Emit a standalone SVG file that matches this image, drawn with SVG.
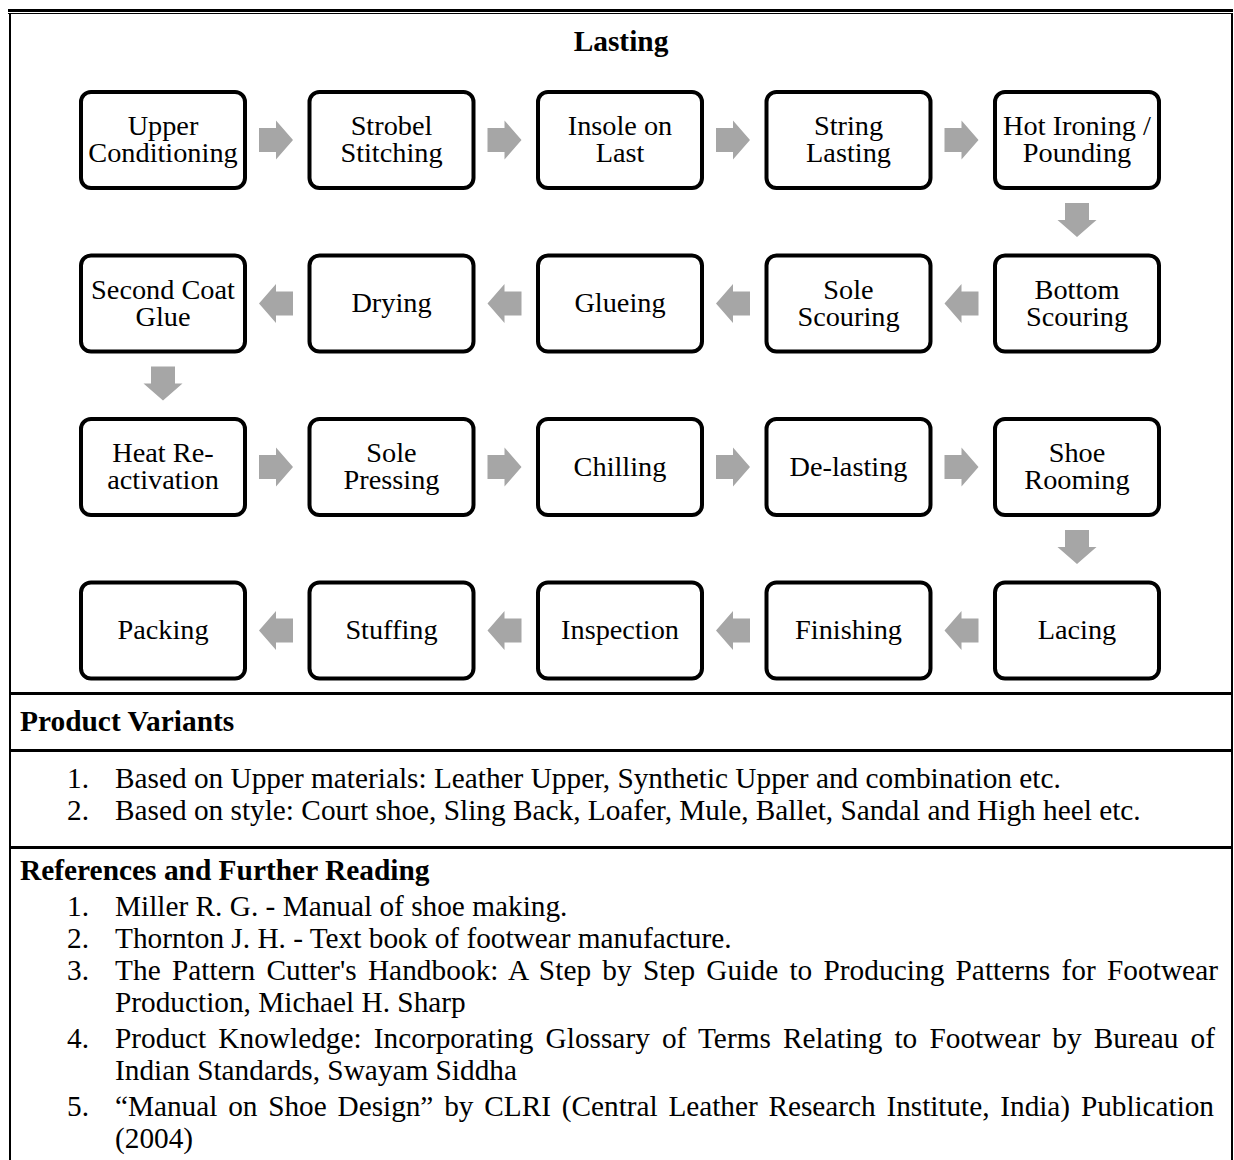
<svg xmlns="http://www.w3.org/2000/svg" xmlns:xlink="http://www.w3.org/1999/xlink" width="1234" height="1160" viewBox="0 0 1234 1160">
<style>
.box{fill:#fff;stroke:#000;stroke-width:4}
.lbl{font-family:"Liberation Serif","Times New Roman",serif;font-size:28.3px;fill:#000;text-anchor:middle}
.txt{font-family:"Liberation Serif","Times New Roman",serif;font-size:29.3px;fill:#000}
.hd{font-family:"Liberation Serif","Times New Roman",serif;font-size:29.4px;font-weight:bold;fill:#000}
.arr{fill:#a6a6a6}
.rule{fill:#000}
</style>
<defs>
<path id="ar" class="arr" d="M-17,-12 H0 V-19.5 L17,0 L0,19.5 V12 H-17 Z"/>
</defs>
<rect width="1234" height="1160" fill="#fff"/>
<g id="table">
<rect class="rule" x="8" y="9" width="1225" height="3"/>
<rect class="rule" x="8" y="13" width="1225" height="1"/>
<rect class="rule" x="9" y="13" width="2" height="1147"/>
<rect class="rule" x="1231" y="13" width="2" height="1147"/>
<rect class="rule" x="9" y="692" width="1224" height="3"/>
<rect class="rule" x="9" y="749" width="1224" height="3"/>
<rect class="rule" x="9" y="846" width="1224" height="3"/>
</g>
<text class="hd" x="621" y="51" text-anchor="middle">Lasting</text>
<g id="connectors">
<use xlink:href="#ar" transform="translate(276,140)"/>
<use xlink:href="#ar" transform="translate(504.5,140)"/>
<use xlink:href="#ar" transform="translate(733,140)"/>
<use xlink:href="#ar" transform="translate(961.5,140)"/>
<use xlink:href="#ar" transform="translate(1077,220) rotate(90)"/>
<use xlink:href="#ar" transform="translate(961.5,303.5) scale(-1,1)"/>
<use xlink:href="#ar" transform="translate(733,303.5) scale(-1,1)"/>
<use xlink:href="#ar" transform="translate(504.5,303.5) scale(-1,1)"/>
<use xlink:href="#ar" transform="translate(276,303.5) scale(-1,1)"/>
<use xlink:href="#ar" transform="translate(163,383.5) rotate(90)"/>
<use xlink:href="#ar" transform="translate(276,467)"/>
<use xlink:href="#ar" transform="translate(504.5,467)"/>
<use xlink:href="#ar" transform="translate(733,467)"/>
<use xlink:href="#ar" transform="translate(961.5,467)"/>
<use xlink:href="#ar" transform="translate(1077,547) rotate(90)"/>
<use xlink:href="#ar" transform="translate(961.5,630.5) scale(-1,1)"/>
<use xlink:href="#ar" transform="translate(733,630.5) scale(-1,1)"/>
<use xlink:href="#ar" transform="translate(504.5,630.5) scale(-1,1)"/>
<use xlink:href="#ar" transform="translate(276,630.5) scale(-1,1)"/>
</g>
<g id="n1"><rect class="box" x="81" y="92" width="164" height="96" rx="10"/><text class="lbl" x="163" y="135">Upper</text><text class="lbl" x="163" y="162">Conditioning</text></g>
<g id="n2"><rect class="box" x="309.5" y="92" width="164" height="96" rx="10"/><text class="lbl" x="391.5" y="135">Strobel</text><text class="lbl" x="391.5" y="162">Stitching</text></g>
<g id="n3"><rect class="box" x="538" y="92" width="164" height="96" rx="10"/><text class="lbl" x="620" y="135">Insole on</text><text class="lbl" x="620" y="162">Last</text></g>
<g id="n4"><rect class="box" x="766.5" y="92" width="164" height="96" rx="10"/><text class="lbl" x="848.5" y="135">String</text><text class="lbl" x="848.5" y="162">Lasting</text></g>
<g id="n5"><rect class="box" x="995" y="92" width="164" height="96" rx="10"/><text class="lbl" x="1077" y="135">Hot Ironing /</text><text class="lbl" x="1077" y="162">Pounding</text></g>
<g id="n6"><rect class="box" x="995" y="255.5" width="164" height="96" rx="10"/><text class="lbl" x="1077" y="298.5">Bottom</text><text class="lbl" x="1077" y="325.5">Scouring</text></g>
<g id="n7"><rect class="box" x="766.5" y="255.5" width="164" height="96" rx="10"/><text class="lbl" x="848.5" y="298.5">Sole</text><text class="lbl" x="848.5" y="325.5">Scouring</text></g>
<g id="n8"><rect class="box" x="538" y="255.5" width="164" height="96" rx="10"/><text class="lbl" x="620" y="312">Glueing</text></g>
<g id="n9"><rect class="box" x="309.5" y="255.5" width="164" height="96" rx="10"/><text class="lbl" x="391.5" y="312">Drying</text></g>
<g id="n10"><rect class="box" x="81" y="255.5" width="164" height="96" rx="10"/><text class="lbl" x="163" y="298.5">Second Coat</text><text class="lbl" x="163" y="325.5">Glue</text></g>
<g id="n11"><rect class="box" x="81" y="419" width="164" height="96" rx="10"/><text class="lbl" x="163" y="462">Heat Re-</text><text class="lbl" x="163" y="489">activation</text></g>
<g id="n12"><rect class="box" x="309.5" y="419" width="164" height="96" rx="10"/><text class="lbl" x="391.5" y="462">Sole</text><text class="lbl" x="391.5" y="489">Pressing</text></g>
<g id="n13"><rect class="box" x="538" y="419" width="164" height="96" rx="10"/><text class="lbl" x="620" y="475.5">Chilling</text></g>
<g id="n14"><rect class="box" x="766.5" y="419" width="164" height="96" rx="10"/><text class="lbl" x="848.5" y="475.5">De-lasting</text></g>
<g id="n15"><rect class="box" x="995" y="419" width="164" height="96" rx="10"/><text class="lbl" x="1077" y="462">Shoe</text><text class="lbl" x="1077" y="489">Rooming</text></g>
<g id="n16"><rect class="box" x="995" y="582.5" width="164" height="96" rx="10"/><text class="lbl" x="1077" y="639">Lacing</text></g>
<g id="n17"><rect class="box" x="766.5" y="582.5" width="164" height="96" rx="10"/><text class="lbl" x="848.5" y="639">Finishing</text></g>
<g id="n18"><rect class="box" x="538" y="582.5" width="164" height="96" rx="10"/><text class="lbl" x="620" y="639">Inspection</text></g>
<g id="n19"><rect class="box" x="309.5" y="582.5" width="164" height="96" rx="10"/><text class="lbl" x="391.5" y="639">Stuffing</text></g>
<g id="n20"><rect class="box" x="81" y="582.5" width="164" height="96" rx="10"/><text class="lbl" x="163" y="639">Packing</text></g>
<g id="variants">
<text class="hd" x="20" y="731">Product Variants</text>
<text class="txt" x="67" y="788">1.</text><text class="txt" x="115" y="788">Based on Upper materials: Leather Upper, Synthetic Upper and combination etc.</text>
<text class="txt" x="67" y="820">2.</text><text class="txt" x="115" y="820">Based on style: Court shoe, Sling Back, Loafer, Mule, Ballet, Sandal and High heel etc.</text>
</g>
<g id="references">
<text class="hd" x="20" y="880">References and Further Reading</text>
<text class="txt" x="67" y="916">1.</text><text class="txt" x="115" y="916">Miller R. G. - Manual of shoe making.</text>
<text class="txt" x="67" y="948">2.</text><text class="txt" x="115" y="948">Thornton J. H. - Text book of footwear manufacture.</text>
<text class="txt" x="67" y="980">3.</text><text class="txt" x="115" y="980" word-spacing="3.8" textLength="1103" lengthAdjust="spacing">The Pattern Cutter's Handbook: A Step by Step Guide to Producing Patterns for Footwear</text>
<text class="txt" x="115" y="1012">Production, Michael H. Sharp</text>
<text class="txt" x="67" y="1048">4.</text><text class="txt" x="115" y="1048" word-spacing="4.8" textLength="1100" lengthAdjust="spacing">Product Knowledge: Incorporating Glossary of Terms Relating to Footwear by Bureau of</text>
<text class="txt" x="115" y="1080">Indian Standards, Swayam Siddha</text>
<text class="txt" x="67" y="1116">5.</text><text class="txt" x="115" y="1116" word-spacing="3.6" textLength="1099" lengthAdjust="spacing">“Manual on Shoe Design” by CLRI (Central Leather Research Institute, India) Publication</text>
<text class="txt" x="115" y="1148">(2004)</text>
</g>
</svg>
